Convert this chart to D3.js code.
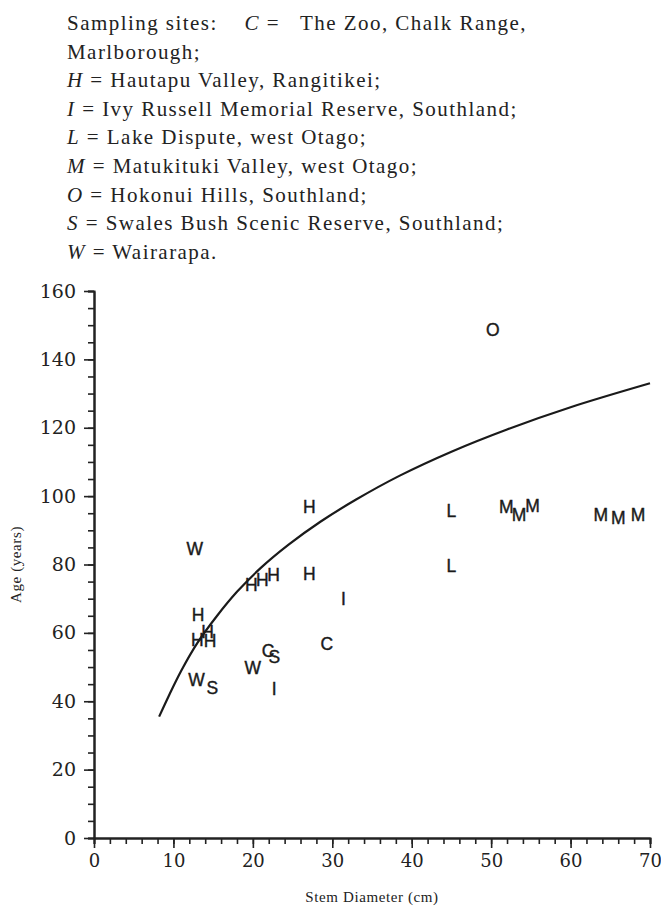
<!DOCTYPE html>
<html lang="en">
<head>
  <meta charset="UTF-8">
  <script src="https://d3js.org/d3.v7.min.js"></script>
  <title>Age vs stem diameter</title>
  <style>
    body { margin: 0; background: #fff; }
    svg { display: block; }
    .legend { font-family: 'Liberation Serif', serif; font-size: 21px; fill: #222; letter-spacing: 1.45px; }
    .axisTitle { font-family: 'Liberation Serif', serif; font-size: 15px; fill: #222; letter-spacing: 0.6px; }
    .site { font-family: 'Liberation Sans', Arial, sans-serif; font-size: 17.5px; fill: #1a1a1a; stroke: #1a1a1a; stroke-width: 0.4px; }
  </style>
</head>
<body>
<div id="chart"></div>
<script>
  // site letters, stem diameter (cm) and age (years)
  let sites = ['C','C',
    'H','H','H','H','H','H','H','H','H',
    'I','I','L','L',
    'M','M','M','M','M','M',
    'O','S','S','W','W','W']
  let diameter = [29.3, 21.9,
    27.1, 19.8, 21.2, 22.6, 27.1, 13.1, 14.3, 13.0, 14.6,
    31.4, 22.7, 45.0, 45.0,
    51.9, 53.5, 55.2, 63.8, 66.0, 68.5,
    50.2, 22.7, 14.9, 12.7, 20.0, 12.9]
  let age = [56.9, 54.7,
    96.9, 74.0, 75.6, 76.9, 77.2, 65.2, 60.3, 57.9, 57.7,
    69.9, 43.7, 95.7, 79.6,
    96.9, 94.5, 97.1, 94.5, 93.7, 94.5,
    148.6, 53.0, 44.0, 84.5, 49.8, 46.4]

  // fitted curve
  let curveDiameter = [8.2, 9.5, 11, 13, 15.5, 18, 21, 24.5, 28.5, 33, 38.5, 45, 52, 60, 70]
  let curveAge = [35.5, 42, 49, 57, 65, 72, 79, 85.8, 92.5, 99, 106, 113, 119.5, 126, 133]

  let xTicks = [0, 10, 20, 30, 40, 50, 60, 70]
  let yTicks = [0, 20, 40, 60, 80, 100, 120, 140, 160]

  let legendLines = [
    [['Sampling sites:', false], ['\u00a0\u00a0\u00a0\u00a0C', true], [' = \u00a0\u00a0The Zoo, Chalk Range,', false]],
    [['Marlborough;', false]],
    [['H', true], [' = Hautapu Valley, Rangitikei;', false]],
    [['I', true], [' = Ivy Russell Memorial Reserve, Southland;', false]],
    [['L', true], [' = Lake Dispute, west Otago;', false]],
    [['M', true], [' = Matukituki Valley, west Otago;', false]],
    [['O', true], [' = Hokonui Hills, Southland;', false]],
    [['S', true], [' = Swales Bush Scenic Reserve, Southland;', false]],
    [['W', true], [' = Wairarapa.', false]]
  ]

  let width = 661, height = 909
  let margin = {top: 291, left: 94, right: 11, bottom: 71}

  let svg = d3.select('#chart').append('svg')
          .attr('width', width)
          .attr('height', height)

  // legend text block
  svg.append('g').selectAll('text')
          .data(legendLines)
          .join('text')
          .attr('class', 'legend')
          .attr('x', 67)
          .attr('y', (d, i) => 30 + i * 28.6)
          .selectAll('tspan')
          .data(d => d)
          .join('tspan')
          .style('font-style', d => d[1] ? 'italic' : 'normal')
          .text(d => d[0])

  let x = d3.scaleLinear().domain([0, 70]).range([margin.left, width - margin.right])
  let y = d3.scaleLinear().domain([0, 160]).range([height - margin.bottom, margin.top])

  // minor ticks first, then major axis on top
  svg.append('g')
          .attr('transform', 'translate(0,' + y(0) + ')')
          .call(d3.axisBottom(x).tickValues(d3.range(0, 71, 2)).tickSize(6).tickFormat(''))
  svg.append('g')
          .attr('transform', 'translate(' + x(0) + ',0)')
          .call(d3.axisLeft(y).tickValues(d3.range(0, 161, 5)).tickSize(6).tickFormat(''))

  let xAxis = svg.append('g')
          .attr('transform', 'translate(0,' + y(0) + ')')
          .call(d3.axisBottom(x).tickValues(xTicks).tickSize(10).tickSizeOuter(0).tickPadding(6))
  let yAxis = svg.append('g')
          .attr('transform', 'translate(' + x(0) + ',0)')
          .call(d3.axisLeft(y).tickValues(yTicks).tickSize(10).tickSizeOuter(0).tickPadding(8))

  xAxis.attr('font-family', "'DejaVu Serif', serif").attr('font-size', 18)
  yAxis.attr('font-family', "'DejaVu Serif', serif").attr('font-size', 19)

  svg.selectAll('.domain').attr('stroke', '#222').attr('stroke-width', 2)
  svg.selectAll('.tick line').attr('stroke', '#222').attr('stroke-width', 1.6)
  svg.selectAll('.tick text')
          .attr('font-family', "'DejaVu Serif', serif")
          .attr('fill', '#222')

  svg.append('text')
          .attr('class', 'axisTitle')
          .attr('x', (x(0) + x(70)) / 2)
          .attr('y', 902)
          .attr('text-anchor', 'middle')
          .text('Stem Diameter (cm)')

  svg.append('text')
          .attr('class', 'axisTitle')
          .attr('transform', 'translate(21,' + ((y(0) + y(160)) / 2) + ') rotate(-90)')
          .attr('text-anchor', 'middle')
          .text('Age (years)')

  // fitted curve
  let line = d3.line()
          .x((d, i) => x(curveDiameter[i]))
          .y(d => y(d))
          .curve(d3.curveCatmullRom)

  svg.append('path')
          .attr('d', line(curveAge))
          .attr('fill', 'none')
          .attr('stroke', '#1a1a1a')
          .attr('stroke-width', 2.2)

  // site letters
  svg.append('g').selectAll('text')
          .data(sites)
          .join('text')
          .attr('class', 'site')
          .attr('x', (d, i) => x(diameter[i]))
          .attr('y', (d, i) => y(age[i]))
          .attr('dy', '0.36em')
          .attr('text-anchor', 'middle')
          .text(d => d)
</script>
</body>
</html>
